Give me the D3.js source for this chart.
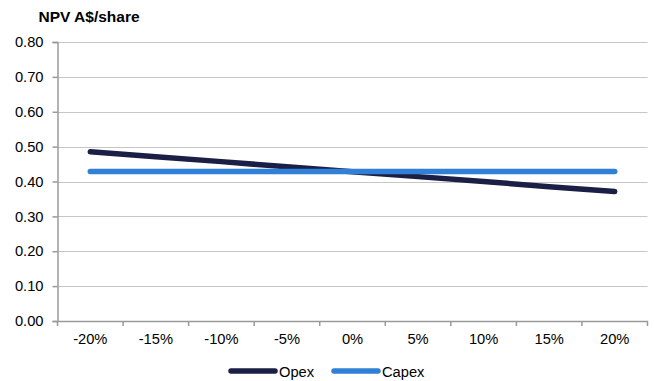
<!DOCTYPE html>
<html><head><meta charset="utf-8">
<script src="https://cdn.jsdelivr.net/npm/d3@7/dist/d3.min.js"></script>
<style>body{margin:0;background:#fff}svg{display:block;font-family:Arial,"Liberation Sans",sans-serif}</style>
</head><body><svg id="c" width="654" height="381"></svg>
<script>
const categories = ["-20%","-15%","-10%","-5%","0%","5%","10%","15%","20%"];
const opex = [0.485,0.471,0.457,0.442,0.428,0.414,0.400,0.385,0.371];
const capex = [0.429,0.429,0.429,0.429,0.429,0.429,0.429,0.429,0.429];
const yTicks = [0,0.1,0.2,0.3,0.4,0.5,0.6,0.7,0.8];
const seriesNames = ["Opex","Capex"];
const colors = ["#1c1f45","#2f80d6"];

(function(){
const svg = d3.select("#c");
const mL = 57.5, mR = 647.5, mT = 42, mB = 321;
const FS = 14.7;
const x = d3.scaleBand().domain(categories).range([mL, mR]);
const y = d3.scaleLinear().domain([0,0.8]).range([mB, mT]);

svg.append("g").selectAll("line").data(yTicks.filter(d=>d>0)).join("line")
  .attr("x1", mL).attr("x2", mR)
  .attr("y1", d=>Math.round(y(d))+0.5).attr("y2", d=>Math.round(y(d))+0.5)
  .attr("stroke","#c6c6c6").attr("stroke-width",1.2);

const ya = svg.append("g").attr("transform",`translate(${mL},0)`)
  .call(d3.axisLeft(y).tickValues(yTicks).tickFormat(d3.format(".2f")).tickSize(5).tickPadding(9));
ya.select(".domain").attr("stroke","#9a9a9a").attr("stroke-width",1.5);
ya.selectAll(".tick line").attr("stroke","#9a9a9a").attr("stroke-width",1.5);
ya.selectAll("text").attr("font-size",FS).attr("fill","#000").attr("font-family","Arial, 'Liberation Sans', sans-serif");

const xa = svg.append("g").attr("transform",`translate(0,${mB})`)
  .call(d3.axisBottom(x).tickSize(0).tickPadding(13));
xa.select(".domain").attr("stroke","#9a9a9a").attr("stroke-width",1.5);
xa.selectAll("text").attr("font-size",FS).attr("fill","#000").attr("font-family","Arial, 'Liberation Sans', sans-serif");
const bounds = categories.map(c=>x(c)).concat([mR]);
xa.selectAll(".btick").data(bounds).join("line").attr("class","btick")
  .attr("x1",d=>d).attr("x2",d=>d).attr("y1",0).attr("y2",5)
  .attr("stroke","#9a9a9a").attr("stroke-width",1.5);

const line = d3.line().x((d,i)=>x(categories[i])+x.bandwidth()/2).y(d=>y(d));
[opex, capex].forEach((s,k)=>
  svg.append("path").datum(s).attr("d",line).attr("fill","none")
    .attr("stroke",colors[k]).attr("stroke-width",5.5).attr("stroke-linecap","round").attr("stroke-linejoin","round"));

svg.append("text").attr("x",38.5).attr("y",22).attr("font-size",15.5).attr("font-weight","bold").text("NPV A$/share");

const leg = [{x1:231,x2:275,tx:279},{x1:334,x2:378,tx:382}];
leg.forEach((l,k)=>{
  svg.append("line").attr("x1",l.x1).attr("x2",l.x2).attr("y1",371).attr("y2",371)
    .attr("stroke",colors[k]).attr("stroke-width",5.5).attr("stroke-linecap","round");
  svg.append("text").attr("x",l.tx).attr("y",377).attr("font-size",FS).text(seriesNames[k]);
});
})();
</script></body></html>
